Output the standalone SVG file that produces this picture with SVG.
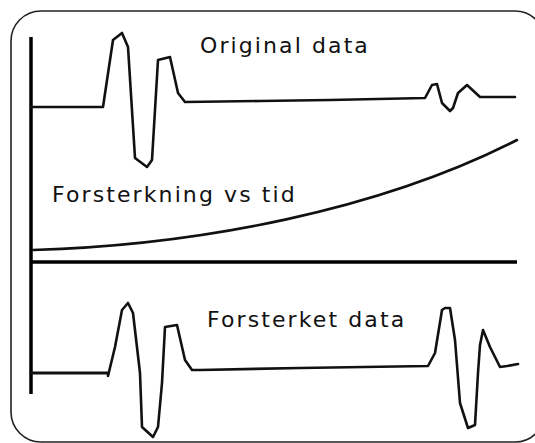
<svg xmlns="http://www.w3.org/2000/svg" width="535" height="443" viewBox="0 0 535 443">
<style>
.frame{fill:#fff;stroke:#222;stroke-width:1.6}
.axis{fill:none;stroke:#000;stroke-width:3.5}
.trace{fill:none;stroke:#111;stroke-width:2.6;stroke-linejoin:round;stroke-linecap:round}
.lbl{font-family:"DejaVu Sans","Liberation Sans",sans-serif;font-size:22px;letter-spacing:2.1px;fill:#111}
</style>
<rect width="535" height="443" fill="#fff"/>
<rect class="frame" x="11" y="11" width="534" height="431" rx="30" ry="30"/>
<g id="axes">
<line class="axis" x1="31" y1="37" x2="31" y2="394"/>
<line class="axis" x1="31" y1="262" x2="517" y2="262"/>
</g>
<g id="original">
<polyline class="trace" points="31,107 103,107 113,40 122,33 128,47 135,158 147,167 152,160 158,60 170,57 178,93 185,102 260,101 330,100 425,98 432,85 437,84 442,103 450,111 453,108 458,93 467,85 480,97 515,97"/>
<text class="lbl" x="200" y="53">Original data</text>
</g>
<g id="gain">
<path class="trace" d="M33,250 C200,245 380,210 517,140"/>
<text class="lbl" x="52" y="202">Forsterkning vs tid</text>
</g>
<g id="amplified">
<polyline class="trace" style="stroke-width:3" points="31,373 108,373"/>
<polyline class="trace" points="108,373 108,376 115,347 122,310 128,303 133,313 140,373 142,427 153,437 158,427 162,383 165,327 177,325 185,360 192,370 200,370 300,368 428,366 435,353 442,310 445,308 450,308 455,340 460,403 468,428 475,425 478,373 480,345 483,330 490,347 500,367 507,366 518,364"/>
<text class="lbl" x="207" y="327">Forsterket data</text>
</g>
</svg>
